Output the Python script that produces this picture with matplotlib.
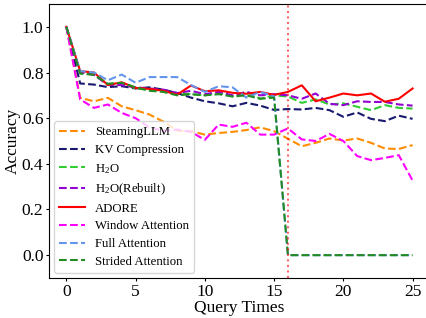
import numpy as np
import matplotlib.pyplot as plt

plt.rcParams['font.family'] = 'Liberation Serif'
plt.rcParams['mathtext.fontset'] = 'custom'
plt.rcParams['mathtext.rm'] = 'Liberation Serif'
plt.rcParams['mathtext.it'] = 'Liberation Serif:italic'

queries = np.arange(26)

steaming = [1.0, 0.689, 0.674, 0.689, 0.652, 0.635, 0.616, 0.585, 0.545, 0.543, 0.528, 0.535,
            0.540, 0.548, 0.560, 0.543, 0.510, 0.477, 0.492, 0.511, 0.502, 0.511, 0.492, 0.467,
            0.465, 0.482]
kv_comp = [1.0, 0.752, 0.747, 0.736, 0.740, 0.730, 0.735, 0.725, 0.710, 0.690, 0.674, 0.665,
           0.652, 0.667, 0.655, 0.636, 0.640, 0.638, 0.645, 0.635, 0.606, 0.625, 0.597, 0.587,
           0.611, 0.597]
h2o = [1.0, 0.800, 0.790, 0.750, 0.755, 0.730, 0.725, 0.720, 0.710, 0.705, 0.700, 0.710,
       0.695, 0.715, 0.685, 0.700, 0.695, 0.667, 0.682, 0.660, 0.665, 0.650, 0.635, 0.657,
       0.645, 0.642]
h2o_rebuilt = [1.0, 0.800, 0.790, 0.745, 0.745, 0.735, 0.730, 0.725, 0.710, 0.720, 0.705, 0.715,
               0.700, 0.715, 0.700, 0.705, 0.700, 0.685, 0.708, 0.663, 0.657, 0.674, 0.671, 0.671,
               0.660, 0.655]
adore = [1.0, 0.806, 0.800, 0.745, 0.757, 0.733, 0.728, 0.720, 0.703, 0.743, 0.718, 0.722,
         0.711, 0.707, 0.715, 0.702, 0.715, 0.744, 0.674, 0.690, 0.708, 0.700, 0.708, 0.672,
         0.685, 0.730]
window = [1.0, 0.682, 0.645, 0.660, 0.623, 0.600, 0.560, 0.545, 0.550, 0.540, 0.505, 0.572,
          0.562, 0.580, 0.528, 0.528, 0.555, 0.507, 0.500, 0.531, 0.500, 0.434, 0.416, 0.426,
          0.438, 0.327]
full = [1.0, 0.806, 0.800, 0.766, 0.791, 0.755, 0.780, 0.780, 0.780, 0.745, 0.715, 0.740,
        0.735, 0.690, 0.715, 0.695, 0, 0, 0, 0, 0, 0, 0, 0, 0, 0]
strided = [1.0, 0.795, 0.790, 0.750, 0.755, 0.735, 0.720, 0.715, 0.700, 0.705, 0.700, 0.705,
           0.695, 0.700, 0.685, 0.690, 0, 0, 0, 0, 0, 0, 0, 0, 0, 0]

fig = plt.figure(figsize=(4.27, 3.18), dpi=100)
ax = fig.add_axes([0.1148, 0.1258, 0.892, 0.8616])

ax.plot(queries, steaming, '--', color='darkorange', label='SteamingLLM')
ax.plot(queries, kv_comp, '--', color='midnightblue', label='KV Compression')
ax.plot(queries, h2o, '--', color='limegreen', label='H$_2$O')
ax.plot(queries, h2o_rebuilt, '--', color='darkviolet', label='H$_2$O(Rebuilt)')
ax.plot(queries, adore, '-', color='red', label='ADORE')
ax.plot(queries, window, '--', color='magenta', label='Window Attention')
ax.plot(queries, full, '--', color='cornflowerblue', label='Full Attention')
ax.plot(queries, strided, '--', color='forestgreen', label='Strided Attention')
ax.axvline(16, color='red', linestyle=':', alpha=0.6)

ax.set_ylim(-0.1, 1.1)
ax.set_xlabel('Query Times', fontsize=12.5, labelpad=0)
ax.set_ylabel('Accuracy', fontsize=12.5, labelpad=1)
ax.tick_params(labelsize=12.5, length=2.5, pad=1.5)
ax.legend(loc='lower left', fontsize=9.2, labelspacing=0.45, borderaxespad=0.4)

fig.savefig('out.png', dpi=100)
